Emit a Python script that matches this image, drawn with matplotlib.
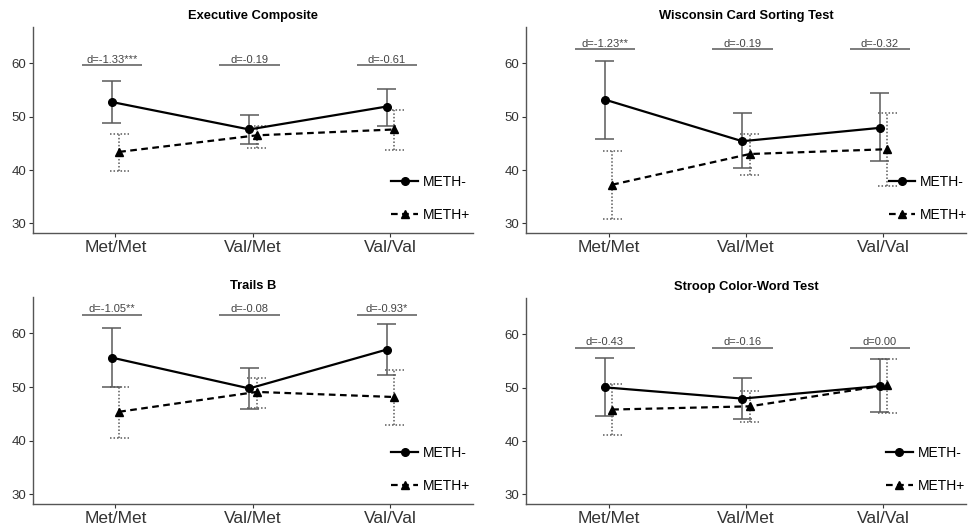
import matplotlib
matplotlib.use("Agg")
import matplotlib.pyplot as plt
from matplotlib.lines import Line2D

plt.rcParams["font.family"] = ["Liberation Sans", "DejaVu Sans"]

categories = ["Met/Met", "Val/Met", "Val/Val"]
titles = ["Executive Composite", "Wisconsin Card Sorting Test",
          "Trails B", "Stroop Color-Word Test"]

# METH- group: means and error bar ends
exec_neg = [52.75, 47.6, 51.9]
exec_neg_lo = [48.8, 44.8, 48.3]
exec_neg_hi = [56.7, 50.4, 55.25]
wcst_neg = [53.2, 45.4, 47.9]
wcst_neg_lo = [45.9, 40.3, 41.7]
wcst_neg_hi = [60.4, 50.6, 54.4]
trails_neg = [55.5, 49.75, 57.0]
trails_neg_lo = [50.05, 45.9, 52.3]
trails_neg_hi = [61.0, 53.6, 61.85]
stroop_neg = [50.06, 47.95, 50.3]
stroop_neg_lo = [44.6, 44.1, 45.5]
stroop_neg_hi = [55.5, 51.8, 55.3]

# METH+ group
exec_pos = [43.4, 46.5, 47.6]
exec_pos_lo = [39.8, 44.2, 43.7]
exec_pos_hi = [46.8, 48.25, 51.25]
wcst_pos = [37.25, 43.0, 43.9]
wcst_pos_lo = [30.75, 39.1, 37.0]
wcst_pos_hi = [43.5, 46.8, 50.6]
trails_pos = [45.4, 49.1, 48.15]
trails_pos_lo = [40.5, 46.05, 42.9]
trails_pos_hi = [50.0, 51.7, 53.2]
stroop_pos = [45.9, 46.5, 50.5]
stroop_pos_lo = [41.05, 43.5, 45.3]
stroop_pos_hi = [50.7, 49.3, 55.4]

# effect sizes and the height of their bars
exec_d = ["d=-1.33***", "d=-0.19", "d=-0.61"]
wcst_d = ["d=-1.23**", "d=-0.19", "d=-0.32"]
trails_d = ["d=-1.05**", "d=-0.08", "d=-0.93*"]
stroop_d = ["d=-0.43", "d=-0.16", "d=0.00"]
d_heights = [59.6, 62.6, 63.5, 57.5]

panels = [
    (exec_neg, exec_neg_lo, exec_neg_hi, exec_pos, exec_pos_lo, exec_pos_hi, exec_d),
    (wcst_neg, wcst_neg_lo, wcst_neg_hi, wcst_pos, wcst_pos_lo, wcst_pos_hi, wcst_d),
    (trails_neg, trails_neg_lo, trails_neg_hi, trails_pos, trails_pos_lo, trails_pos_hi, trails_d),
    (stroop_neg, stroop_neg_lo, stroop_neg_hi, stroop_pos, stroop_pos_lo, stroop_pos_hi, stroop_d),
]

# axes boxes in pixels: left, top, right, bottom
W, H = 974, 531
boxes = [(33, 27, 473, 233), (526, 27, 966, 233),
         (33, 297, 473, 504), (526, 298, 966, 504)]
legend_right = [0.993, 1.003, 0.993, 0.997]

fig = plt.figure(figsize=(W / 100, H / 100), dpi=100)
fig.patch.set_facecolor("white")

dodge = 0.027
cap = 0.07
grey = "#5a5a5a"

for i, (neg, nlo, nhi, pos, plo, phi, dlab) in enumerate(panels):
    l, t, r, b = boxes[i]
    ax = fig.add_axes([l / W, 1 - b / H, (r - l) / W, (b - t) / H])
    x = [1, 2, 3]
    xn = [v - dodge for v in x]
    xp = [v + dodge for v in x]

    # error bars
    ax.vlines(xn, nlo, nhi, color=grey, lw=1.1, zorder=2)
    ax.hlines(nlo, [v - cap for v in xn], [v + cap for v in xn], color=grey, lw=1.1, zorder=2)
    ax.hlines(nhi, [v - cap for v in xn], [v + cap for v in xn], color=grey, lw=1.1, zorder=2)
    ax.vlines(xp, plo, phi, color=grey, lw=1.1, linestyles=(0, (1, 1.3)), zorder=2)
    ax.hlines(plo, [v - cap for v in xp], [v + cap for v in xp], color=grey, lw=1.1,
              linestyles=(0, (1, 1.3)), zorder=2)
    ax.hlines(phi, [v - cap for v in xp], [v + cap for v in xp], color=grey, lw=1.1,
              linestyles=(0, (1, 1.3)), zorder=2)

    ax.plot(xn, neg, color="black", lw=1.6, marker="o", ms=5.5, zorder=4)
    ax.plot(xp, pos, color="black", lw=1.6, ls=(0, (3, 2)), marker="^", ms=6, zorder=3)

    # effect size bars and labels
    for j in range(3):
        ax.hlines(d_heights[i], xn[j] - 0.22, xn[j] + 0.22, color="#666666", lw=1.2)
        ax.text(xn[j], d_heights[i] + 0.1, dlab[j], ha="center", va="bottom",
                fontsize=8, color="#444444")

    ax.set_xlim(0.4, 3.6)
    ax.set_ylim(28.2, 66.8)
    ax.set_xticks(x)
    ax.set_xticklabels(categories, fontsize=12.5, color="#222222")
    ax.set_yticks([30, 40, 50, 60])
    ax.tick_params(axis="y", labelsize=9.5, colors="#333333", length=3, width=0.8, pad=2)
    ax.tick_params(axis="x", colors="#333333", length=3, width=0.8, pad=2)
    for s in ["top", "right"]:
        ax.spines[s].set_visible(False)
    for s in ["left", "bottom"]:
        ax.spines[s].set_color("#555555")
        ax.spines[s].set_linewidth(1.0)
    ax.set_title(titles[i], fontsize=9.3, fontweight="bold", pad=6)

    handles = [
        Line2D([], [], color="black", lw=1.6, marker="o", ms=5.5),
        Line2D([], [], color="black", lw=1.6, ls=(0, (3, 2)), marker="^", ms=6),
    ]
    ax.legend(handles, ["METH-", "METH+"], loc="lower right", frameon=False,
              bbox_to_anchor=(legend_right[i], 0.055), fontsize=10,
              handlelength=1.9, handletextpad=0.35, labelspacing=1.35,
              borderpad=0, borderaxespad=0)

fig.savefig("out.png", dpi=100)
